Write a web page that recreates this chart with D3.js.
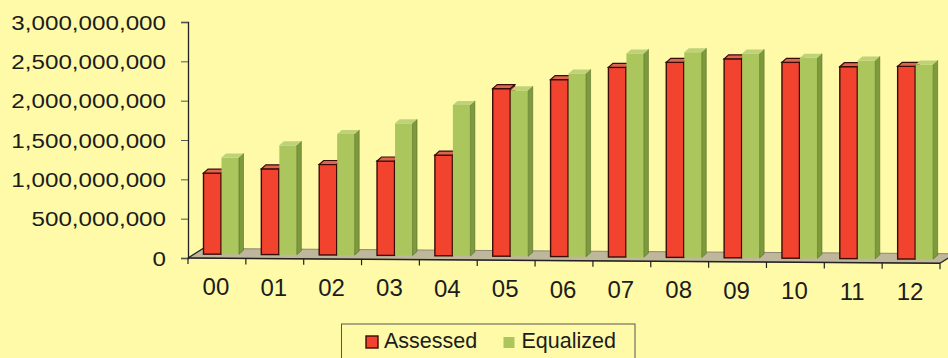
<!DOCTYPE html>
<html>
<head>
<meta charset="utf-8">
<script src="https://cdn.jsdelivr.net/npm/d3@7"></script>
<style>
  html, body { margin: 0; padding: 0; background: #fefaa8; }
  svg { display: block; }
  text { font-family: "Liberation Sans", Arial, sans-serif; fill: #1c1c1c; }
</style>
</head>
<body>
<svg id="chart" width="948" height="358"></svg>
<script>
// Tax-year labels and the two valuation series (dollars)
const categories = ["00", "01", "02", "03", "04", "05", "06", "07", "08", "09", "10", "11", "12"];
const assessed = [1.03e9, 1.09e9, 1.15e9, 1.20e9, 1.28e9, 2.13e9, 2.25e9, 2.41e9, 2.48e9, 2.53e9, 2.49e9, 2.44e9, 2.45e9];
const equalized = [1.23e9, 1.39e9, 1.54e9, 1.68e9, 1.92e9, 2.11e9, 2.33e9, 2.59e9, 2.61e9, 2.60e9, 2.55e9, 2.52e9, 2.475e9];
const yTicks = [0, 5e8, 1e9, 1.5e9, 2e9, 2.5e9, 3e9];
const seriesNames = ["Assessed", "Equalized"];

const svg = d3.select("#chart");
const W = 948, H = 358;

// plot frame
const left = 188, right = 940;
const y0 = 258, yTop = 22;
const slope = 0.007;              // floor tilts slightly downward to the right
const depthX = 15, depthY = -9.5; // floor depth offset
const barDX = 4.5, barDY = -4;    // bar depth offset

const x = d3.scaleBand().domain(categories).range([left, right]).padding(0);
const y = d3.scaleLinear().domain([0, 3e9]).range([y0, yTop]);

const frontY = px => y0 + slope * (px - left);
const baseY = px => frontY(px) - 4;

// background
svg.append("rect").attr("width", W).attr("height", H).attr("fill", "#fefaa8");

// floor
const fl = [
  [left, frontY(left)],
  [right, frontY(right)],
  [right + depthX, frontY(right) + depthY],
  [left + depthX, frontY(left) + depthY]
];
svg.append("polygon")
  .attr("points", fl.map(p => p.join(",")).join(" "))
  .attr("fill", "#bfb79c")
  .attr("stroke", "#8d8672")
  .attr("stroke-width", 1);
svg.append("line")
  .attr("x1", left).attr("y1", frontY(left))
  .attr("x2", left + depthX).attr("y2", frontY(left) + depthY)
  .attr("stroke", "#2a2a2a").attr("stroke-width", 1.3);
svg.append("line")
  .attr("x1", right).attr("y1", frontY(right))
  .attr("x2", right + depthX).attr("y2", frontY(right) + depthY)
  .attr("stroke", "#2a2a2a").attr("stroke-width", 1.3);

// bars
const redW = 17.5, greenW = 17.5;
const redOff = 15.5, greenOff = 33.5;
const poly = pts => pts.map(p => p.join(",")).join(" ");

const groups = svg.append("g").selectAll("g")
  .data(categories.map((c, i) => ({ c, a: assessed[i], e: equalized[i] })))
  .join("g");

groups.each(function (d) {
  const g = d3.select(this);
  const x0 = x(d.c);

  // Assessed (red)
  const rx = x0 + redOff;
  const rb = baseY(rx + redW / 2);
  const rh = y(0) - y(d.a);
  const rt = rb - rh;
  g.append("polygon")
    .attr("points", poly([[rx + redW, rt], [rx + redW + barDX, rt + barDY], [rx + redW + barDX, rb + barDY], [rx + redW, rb]]))
    .attr("fill", "#a8261a").attr("stroke", "#3a0c08").attr("stroke-width", 1);
  g.append("rect")
    .attr("x", rx).attr("y", rt).attr("width", redW).attr("height", rh)
    .attr("fill", "#f2432e").attr("stroke", "#3a0c08").attr("stroke-width", 1.4);
  const redTop = () => g.append("polygon")
    .attr("points", poly([[rx, rt], [rx + redW, rt], [rx + redW + barDX, rt + barDY], [rx + barDX, rt + barDY]]))
    .attr("fill", "#dc6450").attr("stroke", "#3a0c08").attr("stroke-width", 1.2);
  if (d.a < d.e) redTop();

  // Equalized (green)
  const gx = x0 + greenOff;
  const gb = baseY(gx + greenW / 2);
  const gh = y(0) - y(d.e);
  const gt = gb - gh;
  g.append("rect")
    .attr("x", gx).attr("y", gt).attr("width", greenW).attr("height", gh)
    .attr("fill", "#aac65c");
  g.append("polygon")
    .attr("points", poly([[gx + greenW, gt], [gx + greenW + barDX, gt + barDY], [gx + greenW + barDX, gb + barDY], [gx + greenW, gb]]))
    .attr("fill", "#7d9a3c").attr("stroke", "#55702a").attr("stroke-width", 0.6);
  g.append("polygon")
    .attr("points", poly([[gx, gt], [gx + greenW, gt], [gx + greenW + barDX, gt + barDY], [gx + barDX, gt + barDY]]))
    .attr("fill", "#bfd27a");
  if (d.a >= d.e) redTop();
});

// value axis
const yAxis = d3.axisLeft(y).tickValues(yTicks).tickFormat(d3.format(",")).tickSize(7).tickPadding(0);
const ya = svg.append("g").attr("transform", `translate(${left},0)`).call(yAxis);
ya.select(".domain").attr("stroke", "#222").attr("stroke-width", 1.3);
ya.selectAll(".tick line").attr("stroke", "#555").attr("stroke-width", 1);
ya.selectAll(".tick text")
  .attr("x", 0).attr("dy", "0.35em")
  .attr("transform", "translate(-22,0) scale(1.21,1)")
  .attr("text-anchor", "end")
  .style("font-size", "20px")
  .style("font-family", "'Liberation Sans', Arial, sans-serif")
  .attr("fill", "#1c1c1c");

// category axis along the tilted front edge
const xa = svg.append("g");
xa.append("line")
  .attr("x1", left).attr("y1", frontY(left))
  .attr("x2", right).attr("y2", frontY(right))
  .attr("stroke", "#222").attr("stroke-width", 1.5);
const bounds = categories.map(c => x(c)).concat([right]);
xa.selectAll("line.tk").data(bounds).join("line").attr("class", "tk")
  .attr("x1", d => d).attr("x2", d => d)
  .attr("y1", d => frontY(d)).attr("y2", d => frontY(d) + 6)
  .attr("stroke", "#222").attr("stroke-width", 1.2);
xa.selectAll("text").data(categories).join("text")
  .attr("x", d => x(d) + x.bandwidth() / 2 - 1)
  .attr("y", d => frontY(x(d) + x.bandwidth() / 2) + 37)
  .attr("text-anchor", "middle")
  .style("font-size", "24px")
  .text(d => d);

// legend
const lg = svg.append("g");
lg.append("rect")
  .attr("x", 341.5).attr("y", 324).attr("width", 293.5).attr("height", 50)
  .attr("fill", "#fefaa8").attr("stroke", "#555").attr("stroke-width", 1);
const legendItems = [
  { name: seriesNames[0], sx: 366, tx: 384, fill: "#f2432e", stroke: "#3a0c08", size: 12 },
  { name: seriesNames[1], sx: 503.5, tx: 521.5, fill: "#aac65c", stroke: "none", size: 11 }
];
legendItems.forEach(it => {
  lg.append("rect")
    .attr("x", it.sx).attr("y", 348 - it.size).attr("width", it.size).attr("height", it.size)
    .attr("fill", it.fill).attr("stroke", it.stroke).attr("stroke-width", 1.4);
  lg.append("text")
    .attr("x", it.tx).attr("y", 348)
    .style("font-size", "21.5px")
    .text(it.name);
});
</script>
</body>
</html>
